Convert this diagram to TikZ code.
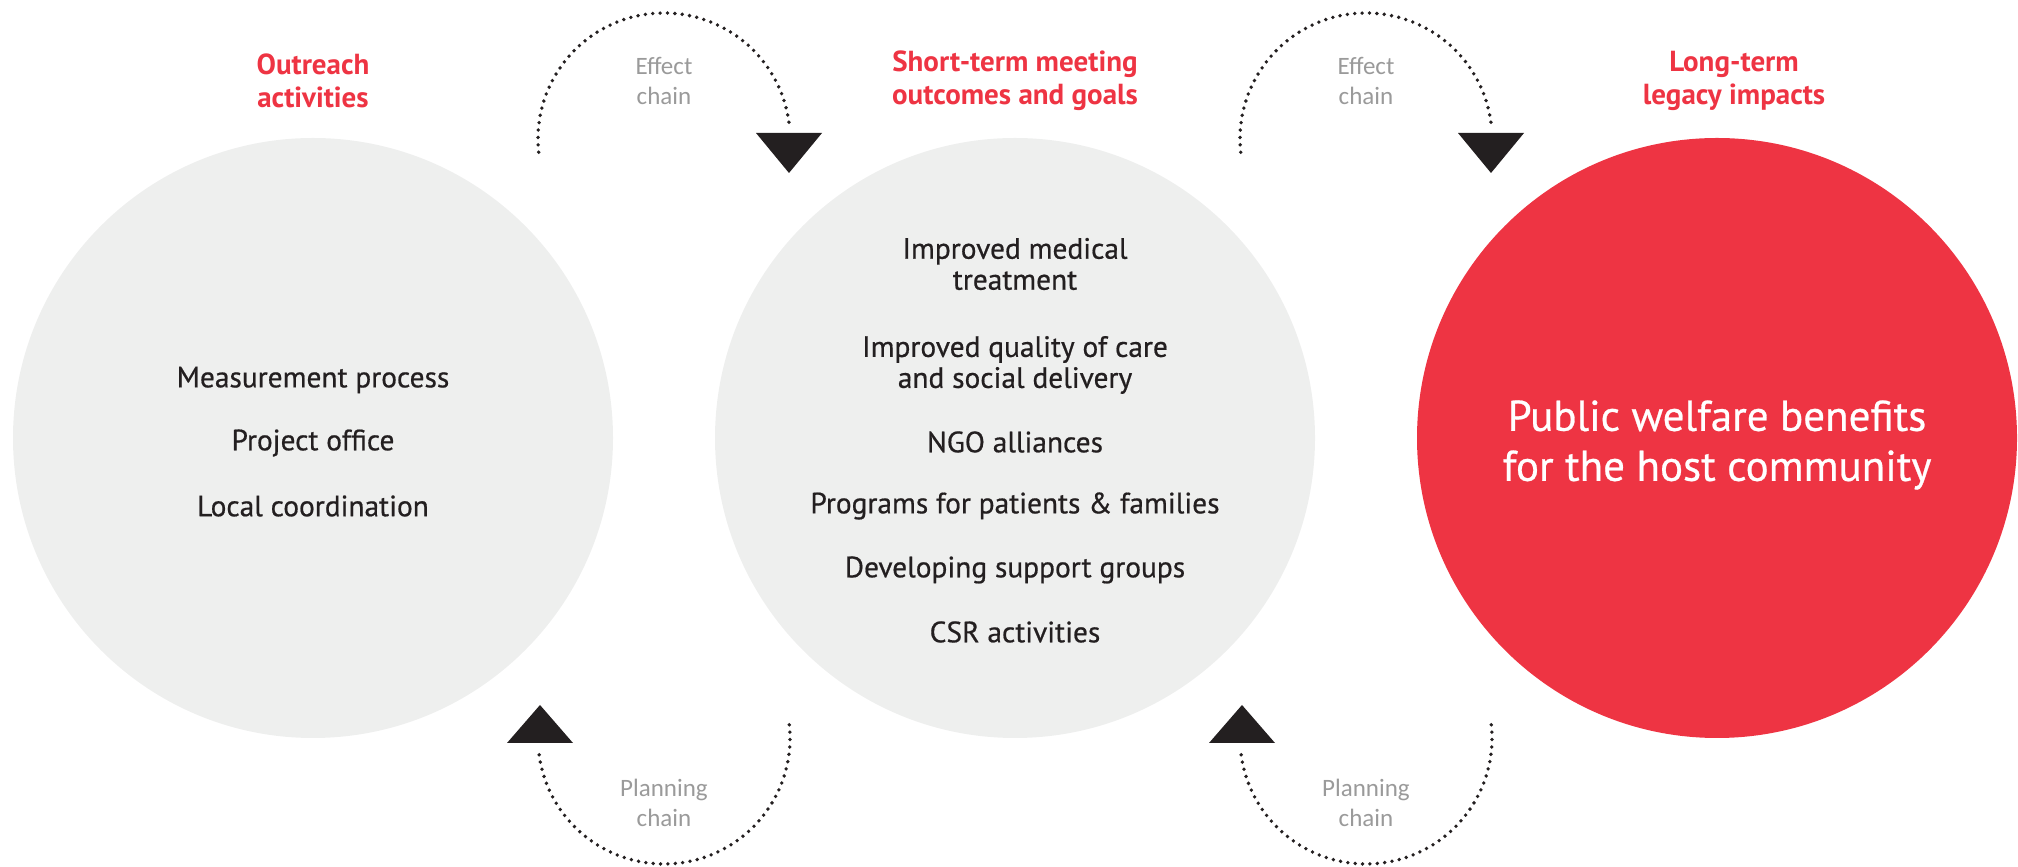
\documentclass[tikz,border=0pt]{standalone}
\usepackage{fontspec}
\setmainfont{PT Sans}
\newfontfamily\medfont{PT Sans}[FakeBold=0.6]
\newfontfamily\grayfont{Carlito}
\definecolor{cred}{HTML}{EE3443}
\definecolor{cgray}{HTML}{EEEFEE}
\definecolor{cdark}{HTML}{231F20}
\definecolor{clabel}{HTML}{9A9A9A}
\begin{document}
\begin{tikzpicture}[x=0.5pt,y=0.5pt,
  circ/.style={circle,inner sep=0pt,minimum size=300pt},
  item/.style={align=center,text=cdark,font=\medfont\fontsize{14.7}{15.5}\selectfont},
  head/.style={align=center,text=cred,font=\bfseries\fontsize{14.5}{16.5}\selectfont},
  lbl/.style={align=center,text=clabel,font=\grayfont\fontsize{12.5}{15}\selectfont},
  chain/.style={draw=cdark,line width=1.9pt,dash pattern=on 0pt off 3.7pt,line cap=round},
  tri/.style={fill=cdark}]
\useasboundingbox (0,0) rectangle (2018,867);
% circles
\node[circ,fill=cgray] (c1) at (313,429) {};
\node[circ,fill=cgray] (c2) at (1015,429) {};
\node[circ,fill=cred] (c3) at (1717,429) {};
% headings
\node[head] (h1) at (313,786) {Outreach\\activities};
\node[head] (h2) at (1015,786) {Short-term meeting\\outcomes and goals};
\node[head] (h3) at (1734,786) {Long-term\\legacy impacts};
% left items
\node[item] (l1) at (313,487) {Measurement process};
\node[item] (l2) at (313,424) {Project office};
\node[item] (l3) at (313,361) {Local coordination};
% middle items
\node[item] (m1) at (1015,603) {Improved medical\\treatment};
\node[item] (m2) at (1015,502) {Improved quality of care\\and social delivery};
\node[item] (m3) at (1015,425) {NGO alliances};
\node[item] (m4) at (1015,361) {Programs for patients \& families};
\node[item] (m5) at (1015,297) {Developing support groups};
\node[item] (m6) at (1015,235) {CSR activities};
% right
\node[align=center,text=white,font=\medfont\fontsize{21.5}{25}\selectfont] (r1) at (1717,422) {Public welfare benefits\\for the host community};
% chain labels
\node[lbl] (e1) at (664,786) {Effect\\chain};
\node[lbl] (e2) at (1366,786) {Effect\\chain};
\node[lbl] (p1) at (664,64) {Planning\\chain};
\node[lbl] (p2) at (1366,64) {Planning\\chain};
% effect chain arcs (top)
\coordinate (es1) at (538.7,714.8);
\coordinate (es2) at (1240.7,714.8);
\draw[chain] (es1) arc[start angle=186,end angle=5,radius=126];
\draw[chain] (es2) arc[start angle=186,end angle=5,radius=126];
\coordinate (ta1) at (789,694);
\coordinate (ta2) at (1491,694);
\fill[tri] (ta1) -- ++(-33,40) -- ++(66,0) -- cycle;
\fill[tri] (ta2) -- ++(-33,40) -- ++(66,0) -- cycle;
% planning chain arcs (bottom)
\coordinate (ps1) at (789.3,142.2);
\coordinate (ps2) at (1491.3,142.2);
\draw[chain] (ps1) arc[start angle=6,end angle=-175,radius=126];
\draw[chain] (ps2) arc[start angle=6,end angle=-175,radius=126];
\coordinate (tb1) at (540,162);
\coordinate (tb2) at (1242,162);
\fill[tri] (tb1) -- ++(-33,-38) -- ++(66,0) -- cycle;
\fill[tri] (tb2) -- ++(-33,-38) -- ++(66,0) -- cycle;
\end{tikzpicture}
\end{document}
